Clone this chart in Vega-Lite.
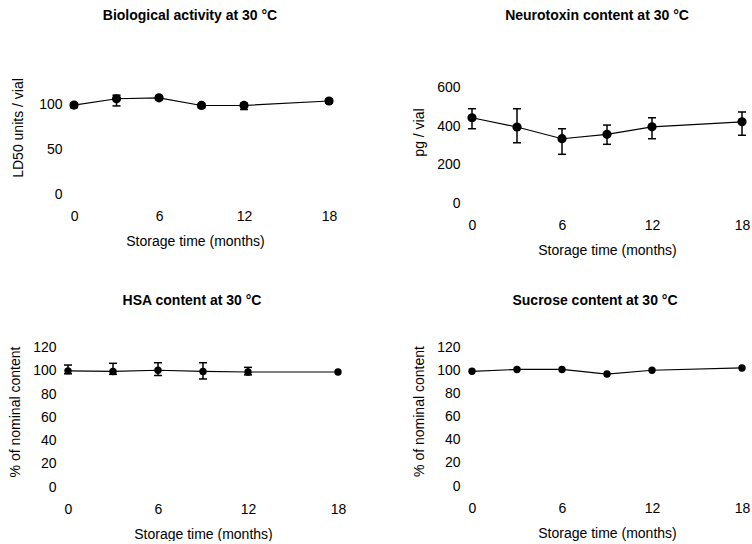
{
  "$schema": "https://vega.github.io/schema/vega-lite/v6.json",
  "padding": {"left": 8, "top": 9, "right": 0, "bottom": 0},
  "background": "white",
  "data": {"values": [
    {"panel": "bio", "month": 0, "value": 99, "lo": 96, "hi": 101},
    {"panel": "bio", "month": 3, "value": 106, "lo": 98, "hi": 110},
    {"panel": "bio", "month": 6, "value": 107, "lo": 105, "hi": 109},
    {"panel": "bio", "month": 9, "value": 98.5, "lo": 96, "hi": 100},
    {"panel": "bio", "month": 12, "value": 98.5, "lo": 94, "hi": 101},
    {"panel": "bio", "month": 18, "value": 103.5, "lo": 101, "hi": 106},
    {"panel": "neuro", "month": 0, "value": 443, "lo": 386, "hi": 490},
    {"panel": "neuro", "month": 3, "value": 395, "lo": 313, "hi": 490},
    {"panel": "neuro", "month": 6, "value": 334, "lo": 253, "hi": 386},
    {"panel": "neuro", "month": 9, "value": 357, "lo": 305, "hi": 405},
    {"panel": "neuro", "month": 12, "value": 396, "lo": 334, "hi": 443},
    {"panel": "neuro", "month": 18, "value": 422, "lo": 352, "hi": 473},
    {"panel": "hsa", "month": 0, "value": 100, "lo": 97.5, "hi": 105},
    {"panel": "hsa", "month": 3, "value": 99.5, "lo": 97, "hi": 106.5},
    {"panel": "hsa", "month": 6, "value": 100.5, "lo": 96, "hi": 107},
    {"panel": "hsa", "month": 9, "value": 99.5, "lo": 93, "hi": 107},
    {"panel": "hsa", "month": 12, "value": 99, "lo": 96.5, "hi": 103},
    {"panel": "hsa", "month": 18, "value": 99, "lo": null, "hi": null},
    {"panel": "suc", "month": 0, "value": 99.4, "lo": null, "hi": null},
    {"panel": "suc", "month": 3, "value": 101, "lo": null, "hi": null},
    {"panel": "suc", "month": 6, "value": 101, "lo": null, "hi": null},
    {"panel": "suc", "month": 9, "value": 97, "lo": null, "hi": null},
    {"panel": "suc", "month": 12, "value": 100.3, "lo": null, "hi": null},
    {"panel": "suc", "month": 18, "value": 102.3, "lo": null, "hi": null}
  ]},
  "columns": 2,
  "spacing": {"row": 37, "column": 65},
  "concat": [
    {
      "title": {"text": "Biological activity at 30 °C", "offset": 38, "dx": -5},
      "width": 272, "height": 133,
      "transform": [{"filter": "datum.panel === 'bio'"}],
      "encoding": {
        "x": {"field": "month", "type": "quantitative", "scale": {"domain": [-1.06, 18.14], "nice": false, "zero": false}, "axis": {"values": [0, 6, 12, 18], "title": "Storage time (months)"}},
        "y": {"field": "value", "type": "quantitative", "scale": {"domain": [0, 148], "nice": false}, "axis": {"values": [0, 50, 100], "title": "LD50 units / vial", "labelPadding": -3, "titlePadding": 13}}
      },
      "layer": [
        {"transform": [{"filter": "isValid(datum.lo)"}], "mark": {"type": "errorbar", "color": "black", "rule": {"color": "black", "strokeWidth": 1.5, "opacity": 1}, "ticks": {"size": 8, "color": "black", "thickness": 1.5, "opacity": 1}},
         "encoding": {"y": {"field": "lo", "type": "quantitative", "title": "LD50 units / vial"}, "y2": {"field": "hi"}}},
        {"mark": {"type": "line", "color": "black", "strokeWidth": 1.2}},
        {"mark": {"type": "circle", "color": "black", "size": 85, "opacity": 1}}
      ]
    },
    {
      "title": {"text": "Neurotoxin content at 30 °C", "offset": 38, "dx": -10},
      "width": 288, "height": 142,
      "transform": [{"filter": "datum.panel === 'neuro'"}],
      "encoding": {
        "x": {"field": "month", "type": "quantitative", "scale": {"domain": [-0.6, 18.6], "nice": false, "zero": false}, "axis": {"values": [0, 6, 12, 18], "title": "Storage time (months)"}},
        "y": {"field": "value", "type": "quantitative", "scale": {"domain": [0, 738], "nice": false}, "axis": {"values": [0, 200, 400, 600], "title": "pg / vial"}}
      },
      "layer": [
        {"transform": [{"filter": "isValid(datum.lo)"}], "mark": {"type": "errorbar", "color": "black", "rule": {"color": "black", "strokeWidth": 1.5, "opacity": 1}, "ticks": {"size": 8, "color": "black", "thickness": 1.5, "opacity": 1}},
         "encoding": {"y": {"field": "lo", "type": "quantitative", "title": "pg / vial"}, "y2": {"field": "hi"}}},
        {"mark": {"type": "line", "color": "black", "strokeWidth": 1.2}},
        {"mark": {"type": "circle", "color": "black", "size": 85, "opacity": 1}}
      ]
    },
    {
      "title": {"text": "HSA content at 30 °C", "offset": 28, "dx": -11},
      "width": 288, "height": 151,
      "transform": [{"filter": "datum.panel === 'hsa'"}],
      "encoding": {
        "x": {"field": "month", "type": "quantitative", "scale": {"domain": [-0.6, 18.6], "nice": false, "zero": false}, "axis": {"values": [0, 6, 12, 18], "title": "Storage time (months)"}},
        "y": {"field": "value", "type": "quantitative", "scale": {"domain": [0, 130], "nice": false}, "axis": {"values": [0, 20, 40, 60, 80, 100, 120], "title": "% of nominal content"}}
      },
      "layer": [
        {"transform": [{"filter": "isValid(datum.lo)"}], "mark": {"type": "errorbar", "color": "black", "rule": {"color": "black", "strokeWidth": 1.5, "opacity": 1}, "ticks": {"size": 8, "color": "black", "thickness": 1.5, "opacity": 1}},
         "encoding": {"y": {"field": "lo", "type": "quantitative", "title": "% of nominal content"}, "y2": {"field": "hi"}}},
        {"mark": {"type": "line", "color": "black", "strokeWidth": 1.2}},
        {"mark": {"type": "circle", "color": "black", "size": 55, "opacity": 1}}
      ]
    },
    {
      "title": {"text": "Sucrose content at 30 °C", "offset": 28, "dx": -12},
      "width": 288, "height": 150,
      "transform": [{"filter": "datum.panel === 'suc'"}],
      "encoding": {
        "x": {"field": "month", "type": "quantitative", "scale": {"domain": [-0.6, 18.6], "nice": false, "zero": false}, "axis": {"values": [0, 6, 12, 18], "title": "Storage time (months)"}},
        "y": {"field": "value", "type": "quantitative", "scale": {"domain": [0, 130], "nice": false}, "axis": {"values": [0, 20, 40, 60, 80, 100, 120], "title": "% of nominal content"}}
      },
      "layer": [
        {"mark": {"type": "line", "color": "black", "strokeWidth": 1.2}},
        {"mark": {"type": "circle", "color": "black", "size": 55, "opacity": 1}}
      ]
    }
  ],
  "config": {
    "view": {"stroke": null},
    "font": "Liberation Sans",
    "title": {"font": "Liberation Sans", "fontSize": 14, "fontWeight": "bold", "color": "black", "anchor": "middle"},
    "axis": {"domain": false, "ticks": false, "grid": false, "labelFont": "Liberation Sans", "labelFontSize": 14, "labelColor": "black", "titleFont": "Liberation Sans", "titleFontSize": 14, "titleFontWeight": "normal", "titleColor": "black"},
    "axisX": {"labelPadding": 15, "titlePadding": 11},
    "axisY": {"labelPadding": 3, "titlePadding": 10}
  }
}
